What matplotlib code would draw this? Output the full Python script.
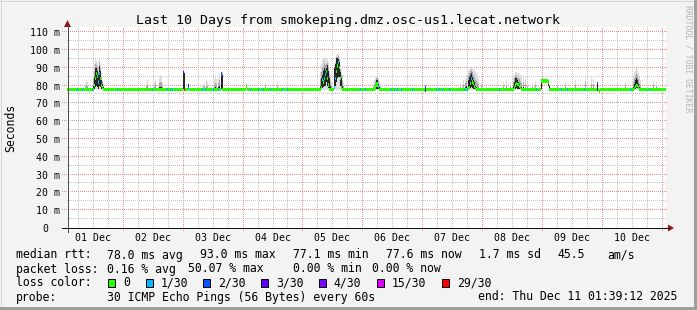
import numpy as np
import matplotlib
matplotlib.use("Agg")
import matplotlib.pyplot as plt
from matplotlib.patches import Rectangle, Polygon
from matplotlib.lines import Line2D

# ---------------- data ----------------
title = "Last 10 Days from smokeping.dmz.osc-us1.lecat.network"
day_labels = ["01 Dec", "02 Dec", "03 Dec", "04 Dec", "05 Dec",
              "06 Dec", "07 Dec", "08 Dec", "09 Dec", "10 Dec"]
first_midnight_hour = 22.347          # Dec 2 00:00 relative to graph start (Dec 1 01:39:12)
span_hours = 240.0
y_top = 112.9
y_ticks = [0, 10, 20, 30, 40, 50, 60, 70, 80, 90, 100, 110]

baseline_median = 78.0               # ms, median rtt outside the events below

# events (hour from start, median ms, smoke low/high ms, dark core low/high ms, loss level)
ev_hours = [7.2, 7.6, 8.0,
            10.4, 10.8, 11.2, 11.6, 12.0, 12.4, 12.8, 13.2, 13.6, 14.0, 14.4,
            31.6, 32.0, 34.8, 35.2, 36.8, 37.2, 37.6, 38.0,
            46.4, 46.8, 48.4,
            54.4, 54.8, 55.6, 56.0, 58.8, 59.2, 59.6, 60.4, 60.8,
            61.6, 62.0, 71.6, 79.2, 84.0,
            101.2, 101.6, 102.0, 102.4, 102.8, 103.2, 103.6, 104.0, 104.4, 104.8, 105.2, 105.6,
            106.8, 107.2, 107.6, 108.0, 108.4, 108.8, 109.2, 109.6, 110.0, 110.4,
            122.8, 123.2, 123.6, 124.0, 124.4, 124.8, 125.2, 125.6,
            143.6,
            157.6, 158.8, 159.6, 160.0, 160.8, 161.2, 161.6, 162.0, 162.4, 162.8, 163.2, 163.6,
            164.0, 164.4, 164.8, 166.0,
            174.8, 176.0, 177.6, 178.8, 179.2, 179.6, 180.0, 180.4, 180.8, 181.2, 181.6, 182.0,
            182.8, 183.6, 184.4, 186.4, 187.6,
            190.0, 190.4, 190.8, 191.2, 191.6, 192.0, 192.4, 192.8, 193.2,
            196.4, 199.6, 203.6, 207.6, 210.0, 210.8,
            212.4, 213.2, 223.6,
            226.8, 227.2, 227.6, 228.0, 228.4, 228.8, 229.2, 229.6, 234.8, 236.0]
ev_median = [78, 78, 78,
             78, 80, 84, 87, 85, 82, 87, 84, 80, 79, 78,
             78, 78, 78, 78, 78, 78, 78, 78,
             87.5, 78, 78.5,
             78, 78, 78, 78, 78, 78, 78, 78, 78,
             86.5, 78, 79.8, 78, 78,
             78, 79, 83.2, 82, 84, 86, 88, 84, 80.3, 78, 78, 78,
             79, 84, 88, 91, 93, 90, 84, 79, 78, 78,
             78, 78.5, 80, 81, 80, 79.5, 78, 78,
             79,
             78, 78, 78, 78, 78.5, 79, 81, 84, 82, 81, 79.4, 78.5,
             78, 78, 78, 78,
             78, 78, 78, 78, 79, 80.3, 81, 80.5, 80.7, 79.5, 79, 78,
             78, 78, 78, 78, 78,
             82.6, 82.6, 82.6, 82.6, 82.6, 82.6, 82.6, 82.0, 78,
             78, 78, 78, 78, 78, 78,
             81, 77, 78,
             78, 78.5, 79.5, 80, 80, 79, 78, 78, 78, 78]
ev_smoke_lo = [77.5, 77.5, 77.5,
               77.5, 77.5, 77.5, 77.5, 77.5, 77.5, 77.5, 77.5, 77.5, 77.5, 77.5,
               77.5, 77.5, 77.5, 77.5, 77.5, 77.5, 77.5, 77.5,
               77.5, 77.5, 77.5,
               77.5, 77.5, 77.5, 77.5, 77.5, 77.5, 77.5, 77.5, 77.5,
               77.5, 77.5, 77.5, 77.5, 77.5,
               77.5, 77.5, 77.5, 77.5, 77.5, 77.5, 77.5, 77.5, 77.5, 77.5, 77.5, 77.5,
               77.5, 77.5, 77.5, 77.5, 77.5, 77.5, 77.5, 77.5, 77.5, 77.5,
               77.5, 77.5, 77.5, 77.5, 77.5, 77.5, 77.5, 77.5,
               76.5,
               77.5, 77.5, 77.5, 77.5, 77.5, 77.5, 77.5, 77.5, 77.5, 77.5, 77.5, 77.5,
               77.5, 77.5, 77.5, 77.5,
               77.5, 77.5, 77.5, 77.5, 77.5, 77.5, 77.5, 77.5, 77.5, 77.5, 77.5, 77.5,
               77.5, 77.5, 77.5, 77.5, 77.5,
               77.5, 82.6, 82.6, 82.6, 82.6, 82.6, 82.6, 77.5, 77.5,
               77.5, 77.5, 77.5, 77.5, 77.5, 77.5,
               76.7, 76.5, 77.5,
               77.5, 77.5, 77.5, 77.5, 77.5, 77.5, 77.5, 77.5, 77.5, 77.5]
ev_smoke_hi = [81.0, 83.0, 82.0,
               89.7, 92.0, 95.3, 94.0, 93.0, 90.0, 95.7, 92.0, 87.0, 83.0, 81.0,
               82.0, 83.1, 82.0, 83.5, 84.0, 86.0, 85.0, 82.0,
               88.2, 87.5, 81.0,
               80.3, 81.5, 83.0, 82.0, 83.0, 85.0, 83.5, 84.5, 86.8,
               87.0, 88.2, 80.2, 81.5, 82.0,
               87.8, 92.0, 94.4, 95.0, 95.7, 95.3, 95.3, 94.4, 93.0, 89.0, 86.0, 82.0,
               91.6, 94.0, 97.2, 97.5, 98.1, 96.0, 91.6, 88.0, 86.0, 82.0,
               81.0, 83.0, 84.0, 85.5, 85.0, 84.0, 82.0, 81.0,
               80.5,
               81.3, 83.1, 84.0, 86.0, 88.0, 89.7, 90.5, 91.2, 90.6, 89.5, 88.8, 87.5,
               86.9, 85.0, 84.0, 81.3,
               82.2, 83.1, 82.2, 85.0, 86.5, 87.8, 87.5, 87.0, 86.9, 86.5, 86.0, 85.0,
               86.0, 84.0, 82.2, 81.3, 82.6,
               82.8, 82.6, 82.6, 82.6, 82.6, 82.6, 82.6, 82.8, 80.5,
               82.2, 82.2, 83.1, 86.0, 84.0, 84.0,
               81.5, 78.0, 82.2,
               86.0, 87.5, 88.8, 89.7, 89.0, 86.9, 85.0, 83.0, 82.6, 82.2]
ev_core_lo = [78, 78, 78,
              78, 78, 79, 80, 79, 78, 80, 79, 78, 78, 78,
              78, 78, 78, 78, 78, 78, 78, 78,
              78, 78, 78,
              78, 78, 78, 78, 78, 78, 78, 78, 78,
              78, 78, 78, 78, 78,
              78, 78, 78.5, 79, 79.5, 80, 82, 80, 78.5, 78, 78, 78,
              78.5, 80, 82.2, 84, 85, 85, 80, 78, 78, 78,
              78, 78, 78, 79, 78, 78, 78, 78,
              76.5,
              78, 78, 78, 78, 78, 78, 78.5, 79, 78.5, 78, 78, 78,
              78, 78, 78, 78,
              78, 78, 78, 78, 78, 78, 78.5, 78, 78, 78, 78, 78,
              78, 78, 78, 78, 78,
              78, 82.6, 82.6, 82.6, 82.6, 82.6, 82.6, 80, 78,
              78, 78, 78, 78, 78, 78,
              76.7, 76.7, 78,
              78, 78, 78, 78.5, 78.5, 78, 78, 78, 78, 78]
ev_core_hi = [78, 78.5, 78,
              80, 85, 90, 90, 88, 86, 91, 88, 83, 81, 79,
              78, 78.5, 78, 78.5, 79, 79, 79, 78,
              88, 87, 80.7,
              78, 78, 78.5, 78, 78.5, 79, 78.5, 79, 80,
              86.9, 86, 78, 78, 78,
              80, 84, 86, 88, 89.7, 89, 90, 91.6, 88, 84, 80, 78,
              89.7, 92, 95.3, 95.3, 95.0, 93.5, 87.9, 84, 80, 78,
              78, 79, 81, 83, 82, 81, 79, 78,
              80,
              78, 78.5, 79, 80, 83, 85, 86, 86.9, 85, 83.1, 82, 80,
              79, 78.5, 78, 78,
              78, 78, 78, 80, 82, 84, 84.1, 83, 82, 81, 80, 79,
              79, 78, 78, 78, 78,
              82.6, 82.6, 82.6, 82.6, 82.6, 82.6, 82.6, 82.6, 80,
              78, 78, 78, 78.5, 78, 78,
              81.3, 77.5, 78,
              79, 81, 83, 84, 83, 81, 79, 78, 78, 78]
ev_loss = [0, 0, 0,
           0, 0, 0, 0, 0, 1, 1, 0, 0, 0, 0,
           0, 0, 0, 0, 0, 0, 0, 0,
           3, 6, 1,
           0, 0, 0, 0, 0, 0, 0, 1, 0,
           2, 0, 0, 0, 0,
           0, 0, 1, 0, 0, 1, 0, 0, 0, 0, 0, 0,
           1, 1, 0, 0, 1, 0, 0, 0, 0, 0,
           0, 0, 0, 0, 0, 1, 0, 0,
           2,
           0, 0, 0, 0, 0, 0, 0, 1, 0, 0, 0, 0,
           0, 0, 0, 0,
           0, 0, 0, 0, 0, 0, 0, 0, 0, 0, 0, 0,
           0, 0, 0, 0, 0,
           0, 0, 0, 0, 0, 0, 0, 0, 0,
           0, 0, 0, 0, 0, 0,
           2, 0, 0,
           0, 0, 0, 0, 0, 0, 0, 0, 0, 0]

# hours where 1/30 loss colored the baseline median
loss1_hours = [3.9, 5.9, 9.9, 19.9, 33.9, 39.9, 41.2, 41.9, 53.9, 55.2, 58.4, 73.2,
               76.4, 78.4, 81.2, 85.9, 87.9, 117.2, 119.2, 129.9, 131.2, 132.4,
               133.9, 138.4, 147.9, 149.2, 150.4, 153.2, 159.2, 160.4, 173.2,
               187.9, 197.9, 200.4, 207.2, 225.9, 233.2]

loss_labels = ["0", "1/30", "2/30", "3/30", "4/30", "15/30", "29/30"]
loss_colors = ["#26ff00", "#00b8ff", "#0059ff", "#5e00ff", "#7e00ff", "#dd00ff", "#ff0000"]

stats_rtt = ["78.0 ms avg", "93.0 ms max", "77.1 ms min", "77.6 ms now", "1.7 ms sd", "45.5", "am/s"]
stats_loss = ["0.16 % avg", "50.07 % max", "0.00 % min", "0.00 % now"]
probe_text = "30 ICMP Echo Pings (56 Bytes) every 60s"
end_text = "end: Thu Dec 11 01:39:12 2025"

# ---------------- figure ----------------
W, H = 697, 310
MONO = "DejaVu Sans Mono"
plt.rcParams["font.family"] = [MONO, "DejaVu Sans"]
fig = plt.figure(figsize=(W / 100, H / 100), dpi=100, facecolor="#f3f3f3")

def fx(x):
    return x / W

def fy(y):
    return 1 - y / H

def ftext(x, y, s, **kw):
    fig.text(fx(x), fy(y), s, **kw)

# frame shading
fig.add_artist(Line2D([fx(0.5), fx(0.5)], [fy(0), fy(310)], transform=fig.transFigure,
                      color="#d6d6d6", lw=0.72, antialiased=False))
fig.add_artist(Line2D([fx(0), fx(697)], [fy(0.5), fy(0.5)], transform=fig.transFigure,
                      color="#d6d6d6", lw=0.72, antialiased=False))
fig.add_artist(Line2D([fx(696), fx(696)], [fy(0), fy(310)], transform=fig.transFigure,
                      color="#9e9e9e", lw=1.6, antialiased=False))
fig.add_artist(Line2D([fx(0), fx(697)], [fy(308.5), fy(308.5)], transform=fig.transFigure,
                      color="#9e9e9e", lw=2.2, antialiased=False))

AX_L, AX_R, AX_B, AX_T = 67, 666, 228, 27
PXW = AX_R - AX_L
PXH = AX_B - AX_T
ax = fig.add_axes([fx(AX_L), fy(AX_B), PXW / W, PXH / H])
ax.set_facecolor("white")
ax.set_xlim(0, span_hours)
ax.set_ylim(0, y_top)
for s in ax.spines.values():
    s.set_visible(False)
ax.set_xticks([])
ax.set_yticks([])

MINOR_C = "#c4c4c4"
MAJOR_C = "#e59090"

# dotted grid drawn as single-pixel dots (one dot every two pixels)
hx_per_px = span_hours / PXW
vy_per_px = y_top / PXH
dots_x = np.arange(0, span_hours, 2 * hx_per_px)
dots_x_ext = np.arange(-5 * hx_per_px, span_hours + 2 * hx_per_px, 2 * hx_per_px)
dots_y = np.arange(0, y_top, 2 * vy_per_px)
dots_y_ext = np.arange(-3 * vy_per_px, y_top, 2 * vy_per_px)

for v in range(5, 111, 5):
    if v % 10 == 0:
        ax.plot(dots_x_ext, np.full(dots_x_ext.size, v), ls="none", marker=",",
                color=MAJOR_C, clip_on=False, zorder=0.5)
    else:
        ax.plot(dots_x, np.full(dots_x.size, v), ls="none", marker=",",
                color=MINOR_C, zorder=0.4)

k = -3
while True:
    h = first_midnight_hour + 6 * k
    if h > span_hours:
        break
    if h > 0:
        if k % 4 == 0:
            ax.plot(np.full(dots_y_ext.size, h), dots_y_ext, ls="none", marker=",",
                    color=MAJOR_C, clip_on=False, zorder=0.5)
        else:
            ax.plot(np.full(dots_y.size, h), dots_y, ls="none", marker=",",
                    color=MINOR_C, zorder=0.4)
    k += 1

# ---------------- series ----------------
slot = 0.4
n = int(round(span_hours / slot))
slot_hours = np.arange(n) * slot
median = np.full(n, baseline_median)
loss = np.zeros(n, dtype=int)
for h in loss1_hours:
    loss[int(round(h / slot))] = 1
ev_idx = [int(round(h / slot)) for h in ev_hours]
for i, j in enumerate(ev_idx):
    median[j] = ev_median[i]
    loss[j] = ev_loss[i]

ev_x = np.array([slot_hours[j] for j in ev_idx])
lo = np.array(ev_smoke_lo)
hi = np.array(ev_smoke_hi)
clo = np.array(ev_core_lo)
chi = np.array(ev_core_hi)
mid_top = chi + (hi - chi) * 0.45

bar_kw = dict(width=slot * 1.02, align="edge", linewidth=0, antialiased=False)
ax.bar(ev_x, hi - lo, bottom=lo, color="#dcdcdc", zorder=1, **bar_kw)
ax.bar(ev_x, mid_top - clo, bottom=clo, color="#a8a8a8", zorder=1.5, **bar_kw)
ax.bar(ev_x, chi - clo, bottom=clo, color="#262626", zorder=2, **bar_kw)

band = 0.9
ax.bar(slot_hours, np.full(n, 2 * band), bottom=median - band,
       color=[loss_colors[l] for l in loss], zorder=3, **bar_kw)

# ---------------- axes lines & arrows ----------------
fig.add_artist(Line2D([fx(67.5), fx(67.5)], [fy(232), fy(25)], transform=fig.transFigure,
                      color="#4a4a4a", lw=0.72, antialiased=False))
fig.add_artist(Line2D([fx(62), fx(669)], [fy(228), fy(228)], transform=fig.transFigure,
                      color="#101010", lw=0.72, antialiased=False))
ARROW_C = "#8b1a1a"
fig.add_artist(Polygon([[fx(64), fy(27)], [fx(71), fy(27)], [fx(67.5), fy(20)]],
                       closed=True, transform=fig.transFigure, facecolor=ARROW_C,
                       edgecolor="none"))
fig.add_artist(Polygon([[fx(668), fy(224.5)], [fx(668), fy(231.5)], [fx(674), fy(228)]],
                       closed=True, transform=fig.transFigure, facecolor=ARROW_C,
                       edgecolor="none"))

# ---------------- texts ----------------
ftext(348.5, 24.3, title, ha="center", va="baseline", fontsize=9.55, family=MONO)

ytrans = ax.get_yaxis_transform()
for v in y_ticks:
    if v == 0:
        ax.text((48.5 - AX_L) / PXW, v, "0", transform=ytrans, ha="right",
                va="center_baseline", fontsize=7.1, family=MONO)
    else:
        ax.text((60 - AX_L) / PXW, v, f"{v} m", transform=ytrans, ha="right",
                va="center_baseline", fontsize=7.1, family=MONO)

xtrans = ax.get_xaxis_transform()
for i, lab in enumerate(day_labels):
    h = first_midnight_hour - 12 + 24 * i
    ax.text(h, -12.7 / PXH, lab, transform=xtrans, ha="center", va="baseline",
            fontsize=7.1, family=MONO)

ftext(10.5, 127.5, "Seconds", rotation=90, ha="center", va="center", fontsize=8.3,
      family=MONO)
ftext(688, 59, "RRDTOOL / TOBI OETIKER", rotation=-90, ha="center", va="center",
      fontsize=5.9, color="#b4b4b4", family=MONO)

LFS = 8.3
rows = [258.5, 272.5, 286.5, 300.5]
ftext(15.5, rows[0], "median rtt:", va="baseline", fontsize=LFS)
for x, s in zip([106.8, 199.5, 292.8, 385.5, 478.8, 557.8, 606.8], stats_rtt):
    ftext(x, rows[0], s, va="baseline", fontsize=LFS)
ftext(15.5, rows[1], "packet loss:", va="baseline", fontsize=LFS)
for x, s in zip([106.8, 187.8, 292.8, 371.8], stats_loss):
    ftext(x, rows[1], s, va="baseline", fontsize=LFS)
ftext(15.5, rows[2], "loss color:", va="baseline", fontsize=LFS)
sw_x = [108.3, 145.7, 203.0, 261.3, 319.3, 377.3, 442.3]
tx_x = [123.5, 160.5, 217.8, 276.2, 333.8, 391.8, 456.8]
for x, c, t, s in zip(sw_x, loss_colors, tx_x, loss_labels):
    fig.add_artist(Rectangle((fx(x), fy(286.5)), 7 / W, 7.5 / H, transform=fig.transFigure,
                             facecolor=c, edgecolor="black", lw=0.72))
    ftext(t, rows[2], s, va="baseline", fontsize=LFS)
ftext(15.5, rows[3], "probe:", va="baseline", fontsize=LFS)
ftext(106.8, rows[3], probe_text, va="baseline", fontsize=LFS)
ftext(477.8, rows[3], end_text, va="baseline", fontsize=LFS)

fig.savefig("out.png", dpi=100, facecolor=fig.get_facecolor())
